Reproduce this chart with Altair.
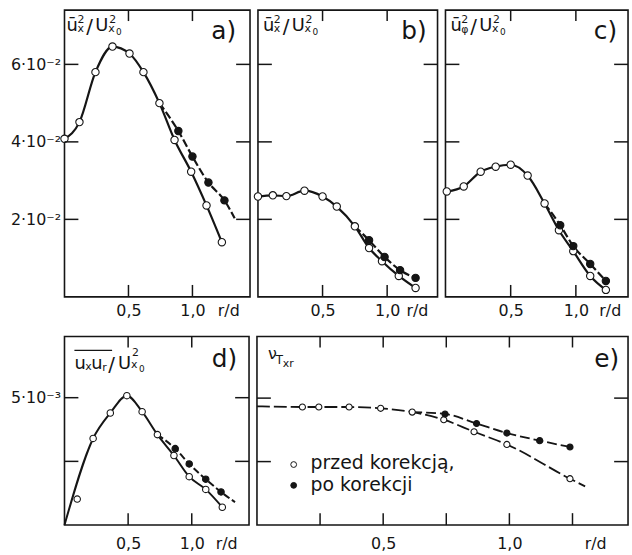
import altair as alt
import pandas as pd

FONT = "DejaVu Sans"
INK = "#151515"
OPEN_LABEL = "przed korekcją,"
FILLED_LABEL = "po korekcji"

# ---- a) axial fluctuation intensity  u_x^2 / U_x0^2 ----
A_OPEN_R = [0.0, 0.117, 0.242, 0.375, 0.508, 0.617, 0.742, 0.86, 0.99, 1.11, 1.23]
A_OPEN_V = [0.0408, 0.0451, 0.0580, 0.0646, 0.0628, 0.0580, 0.0500, 0.0405, 0.0323, 0.0236, 0.0141]
A_FILL_R = [0.89, 1.0, 1.125, 1.25]
A_FILL_V = [0.0428, 0.0362, 0.0295, 0.0249]
A_BRANCH = 6
A_FILL_TAIL_R = [1.33]
A_FILL_TAIL_V = [0.0203]

# ---- b) radial fluctuation intensity ----
B_OPEN_R = [0.0, 0.115, 0.22, 0.36, 0.5, 0.61, 0.75, 0.86, 0.96, 1.09, 1.22]
B_OPEN_V = [0.0259, 0.0262, 0.0260, 0.0274, 0.0259, 0.0233, 0.0182, 0.0126, 0.0092, 0.0054, 0.0023]
B_FILL_R = [0.86, 0.98, 1.10, 1.22]
B_FILL_V = [0.0146, 0.0103, 0.0069, 0.0049]
B_BRANCH = 6

# ---- c) tangential fluctuation intensity ----
C_OPEN_R = [0.01, 0.14, 0.27, 0.385, 0.5, 0.63, 0.76, 0.87, 0.98, 1.11, 1.23]
C_OPEN_V = [0.0272, 0.0285, 0.0323, 0.0336, 0.0341, 0.0313, 0.0241, 0.0172, 0.0118, 0.0054, 0.0018]
C_FILL_R = [0.88, 0.98, 1.11, 1.23]
C_FILL_V = [0.0185, 0.0131, 0.0085, 0.0041]
C_BRANCH = 6

# ---- d) shear stress  u_x u_r / U_x0^2 ----
D_OPEN_R = [0.10, 0.225, 0.36, 0.49, 0.61, 0.73, 0.86, 0.98, 1.11, 1.24]
D_OPEN_V = [0.00102, 0.0034, 0.0044, 0.00508, 0.00445, 0.00355, 0.00273, 0.0019, 0.0014, 0.0007]
D_OPEN_HEAD_R = [0.0]
D_OPEN_HEAD_V = [0.0]
D_OPEN_SKIP = 1          # first measured point lies off the fitted curve
D_FILL_R = [0.87, 0.98, 1.11, 1.23]
D_FILL_V = [0.0030, 0.0024, 0.0018, 0.0013]
D_BRANCH = 5
D_FILL_TAIL_R = [1.34]
D_FILL_TAIL_V = [0.0009]

# ---- e) turbulent viscosity  nu_Txr (relative units) ----
E_OPEN_R = [0.18, 0.245, 0.365, 0.49, 0.615, 0.74, 0.86, 0.99, 1.24]
E_OPEN_V = [1.86, 1.86, 1.86, 1.84, 1.78, 1.66, 1.47, 1.27, 0.73]
E_OPEN_HEAD_R = [0.0]
E_OPEN_HEAD_V = [1.87]
E_OPEN_TAIL_R = [1.30]
E_OPEN_TAIL_V = [0.61]
E_FILL_R = [0.745, 0.87, 0.99, 1.12, 1.24]
E_FILL_V = [1.75, 1.60, 1.45, 1.33, 1.23]
E_BRANCH = 4

# tick positions
X_TICKS = [0.5, 1.0]
E_X_TICKS = [0.25, 0.5, 0.75, 1.0, 1.25]
ABC_Y_TICKS = [0.02, 0.04, 0.06]
D_Y_TICKS = [0.0025, 0.005]
E_Y_TICKS = [1.0, 2.0]


def curve_frames(open_r, open_v, fill_r, fill_v, branch,
                 open_head=((), ()), open_skip=0, open_tail=((), ()), fill_tail=((), ())):
    open_line = pd.DataFrame({
        "r": list(open_head[0]) + open_r[open_skip:] + list(open_tail[0]),
        "v": list(open_head[1]) + open_v[open_skip:] + list(open_tail[1]),
    })
    fill_line = pd.DataFrame({
        "r": [open_r[branch]] + fill_r + list(fill_tail[0]),
        "v": [open_v[branch]] + fill_v + list(fill_tail[1]),
    })
    points = pd.DataFrame({
        "r": open_r + fill_r,
        "v": open_v + fill_v,
        "series": [OPEN_LABEL] * len(open_r) + [FILLED_LABEL] * len(fill_r),
    })
    return open_line, fill_line, points


ONE = pd.DataFrame({"k": [0]})


def glyph(text, x, y, size, align="left", **kw):
    return alt.Chart(ONE).mark_text(
        text=text, align=align, baseline="alphabetic", font=FONT,
        fontSize=size, color=INK, **kw
    ).encode(x=alt.value(x), y=alt.value(y))


def dot(x, y, fill, size):
    return alt.Chart(ONE).mark_circle(
        size=size, fill=fill, stroke=INK, strokeWidth=1, opacity=1
    ).encode(x=alt.value(x), y=alt.value(y))


def tick_mark(x, y, path, length):
    # a straight stroke drawn as a custom symbol; path spans 2 units = `length` px
    return alt.Chart(ONE).mark_point(
        shape=path, size=length * length, filled=False, color=INK,
        strokeWidth=1.5, opacity=1
    ).encode(x=alt.value(x), y=alt.value(y))


def frame_ticks(W, H, xdom, ydom, xticks, yticks):
    # short inward ticks on all four sides, placed with the panel's linear scales
    out = []
    for t in xticks:
        px = (t - xdom[0]) / (xdom[1] - xdom[0]) * W
        out.append(tick_mark(px, H, "M0,0L0,-2", 12))
        out.append(tick_mark(px, 0, "M0,0L0,2", 11))
    for t in yticks:
        py = H - (t - ydom[0]) / (ydom[1] - ydom[0]) * H
        out.append(tick_mark(0, py, "M0,0L2,0", 14))
        out.append(tick_mark(W, py, "M0,0L-2,0", 14))
    return out


def ratio_title(x0, sub_first="x", sub_first_y=22):
    # \bar u^2_{x} / U^2_{x_0}
    return [
        glyph("ū", x0, 21, 18),
        glyph("2", x0 + 11, 13, 11),
        glyph(sub_first, x0 + 11, sub_first_y, 11),
        glyph("/", x0 + 20, 23, 20),
        glyph("U", x0 + 29, 21, 18),
        glyph("2", x0 + 43, 13, 11),
        glyph("x", x0 + 42, 22, 11),
        glyph("0", x0 + 50, 25, 9),
    ]


def panel(W, H, xdom, ydom, frames, rd_at, xticks, yticks, ylabel_expr=None,
          label_pad=6, open_dash=None, fill_dash=(8, 3), line_w=2.2, msize=55,
          decor=()):
    open_line, fill_line, points = frames
    xs = alt.Scale(domain=xdom, nice=False, zero=False)
    ys = alt.Scale(domain=ydom, nice=False, zero=False)
    xaxis = alt.Axis(
        values=[0.5, 1.0, rd_at],
        labelExpr="datum.value == 0.5 ? '0,5' : (datum.value == 1 ? '1,0' : 'r/d')",
        domain=False, ticks=False, grid=False, title=None, orient="bottom",
        labelFont=FONT, labelFontSize=16, labelColor=INK, labelPadding=label_pad,
        labelFlush=False, labelOverlap=False,
    )
    if ylabel_expr is not None:
        yaxis = alt.Axis(
            values=[t for t in yticks if ylabel_expr[1](t)],
            labelExpr=ylabel_expr[0],
            domain=False, ticks=False, grid=False, title=None, orient="left",
            labelFont=FONT, labelFontSize=16, labelColor=INK, labelPadding=4,
            labelOverlap=False,
        )
    else:
        yaxis = None

    open_kw = dict(color=INK, strokeWidth=line_w, interpolate="monotone")
    if open_dash:
        open_kw["strokeDash"] = list(open_dash)
    layers = [
        # before-correction curve: carries the labelled axes
        alt.Chart(open_line).mark_line(**open_kw).encode(
            x=alt.X("r:Q", scale=xs, axis=xaxis), y=alt.Y("v:Q", scale=ys, axis=yaxis)),
        # after-correction curve
        alt.Chart(fill_line).mark_line(
            color=INK, strokeWidth=line_w, interpolate="monotone",
            strokeDash=list(fill_dash)).encode(
            x=alt.X("r:Q", scale=xs, axis=None), y=alt.Y("v:Q", scale=ys, axis=None)),
        # measured points
        alt.Chart(points).mark_circle(
            size=msize, stroke=INK, strokeWidth=1.1, opacity=1).encode(
            x=alt.X("r:Q", scale=xs, axis=None), y=alt.Y("v:Q", scale=ys, axis=None),
            fill=alt.Fill("series:N",
                          scale=alt.Scale(domain=[OPEN_LABEL, FILLED_LABEL],
                                          range=["white", INK]),
                          legend=None),
        ),
    ]
    layers += frame_ticks(W, H, xdom, ydom, xticks, yticks)
    layers += list(decor)
    return (alt.layer(*layers)
            .resolve_axis(x="independent", y="independent")
            .properties(width=W, height=H))


pa = panel(187, 289, [0, 1.45], [0, 0.074],
           curve_frames(A_OPEN_R, A_OPEN_V, A_FILL_R, A_FILL_V, A_BRANCH,
                        fill_tail=(A_FILL_TAIL_R, A_FILL_TAIL_V)),
           1.28, X_TICKS, ABC_Y_TICKS,
           ylabel_expr=("round(datum.value * 100) + '·10⁻²'", lambda t: True),
           decor=ratio_title(2) + [glyph("a)", 187 - 14, 29, 25, align="right")])

pb = panel(181, 289, [0, 1.39], [0, 0.074],
           curve_frames(B_OPEN_R, B_OPEN_V, B_FILL_R, B_FILL_V, B_BRANCH),
           1.23, X_TICKS, ABC_Y_TICKS,
           decor=ratio_title(5) + [glyph("b)", 181 - 11, 29, 25, align="right")])

pc = panel(184, 289, [0, 1.40], [0, 0.074],
           curve_frames(C_OPEN_R, C_OPEN_V, C_FILL_R, C_FILL_V, C_BRANCH),
           1.26, X_TICKS, ABC_Y_TICKS,
           decor=ratio_title(5, sub_first="φ", sub_first_y=23)
           + [glyph("c)", 184 - 11, 29, 25, align="right")])

d_title = [
    alt.Chart(ONE).mark_rule(color=INK, strokeWidth=1.3).encode(
        x=alt.value(10), x2=alt.value(48), y=alt.value(14)),
    glyph("u", 10, 33, 18),
    glyph("x", 21, 34, 11),
    glyph("u", 27, 33, 18),
    glyph("r", 38, 35, 11),
    glyph("/", 44, 35, 20),
    glyph("U", 54, 33, 18),
    glyph("2", 68, 20, 11),
    glyph("x", 67, 32, 11),
    glyph("0", 75, 36, 9),
    glyph("d)", 186 - 12, 31, 25, align="right"),
]
pd_ = panel(186, 190, [0, 1.45], [0, 0.0074],
            curve_frames(D_OPEN_R, D_OPEN_V, D_FILL_R, D_FILL_V, D_BRANCH,
                         open_head=(D_OPEN_HEAD_R, D_OPEN_HEAD_V), open_skip=D_OPEN_SKIP,
                         fill_tail=(D_FILL_TAIL_R, D_FILL_TAIL_V)),
            1.27, X_TICKS, D_Y_TICKS,
            ylabel_expr=("round(datum.value * 1000) + '·10⁻³'", lambda t: t == 0.005),
            label_pad=11, fill_dash=(7, 3), line_w=2.0, msize=42, decor=d_title)

# e) carries the key: open marker = before correction, filled = after
e_decor = [
    glyph("ν", 11, 23, 16),
    glyph("T", 19, 28, 12),
    glyph("xr", 26, 31, 11),
    glyph("e)", 374 - 9, 31, 25, align="right"),
    dot(37, 129, "white", 34),
    dot(37, 150, INK, 34),
    glyph(OPEN_LABEL, 54, 134, 19),
    glyph(FILLED_LABEL, 54, 156, 19),
]
pe = panel(374, 190, [0, 1.47], [0, 2.97],
           curve_frames(E_OPEN_R, E_OPEN_V, E_FILL_R, E_FILL_V, E_BRANCH,
                        open_head=(E_OPEN_HEAD_R, E_OPEN_HEAD_V),
                        open_tail=(E_OPEN_TAIL_R, E_OPEN_TAIL_V)),
           1.34, E_X_TICKS, E_Y_TICKS,
           label_pad=11, open_dash=(13, 4), fill_dash=(10, 4), line_w=1.8, msize=38,
           decor=e_decor)

top = alt.hconcat(pa, pb, pc, spacing=8, bounds="flush")
bottom = alt.hconcat(pd_, pe, spacing=8, bounds="flush")

chart = alt.vconcat(top, bottom, spacing=13).properties(
    padding={"left": 9, "top": 4, "right": 0, "bottom": 4},
    background="white",
).configure_view(stroke=INK, strokeWidth=1.6)

chart.save("out.html", embed_options={"renderer": "svg", "actions": False})
